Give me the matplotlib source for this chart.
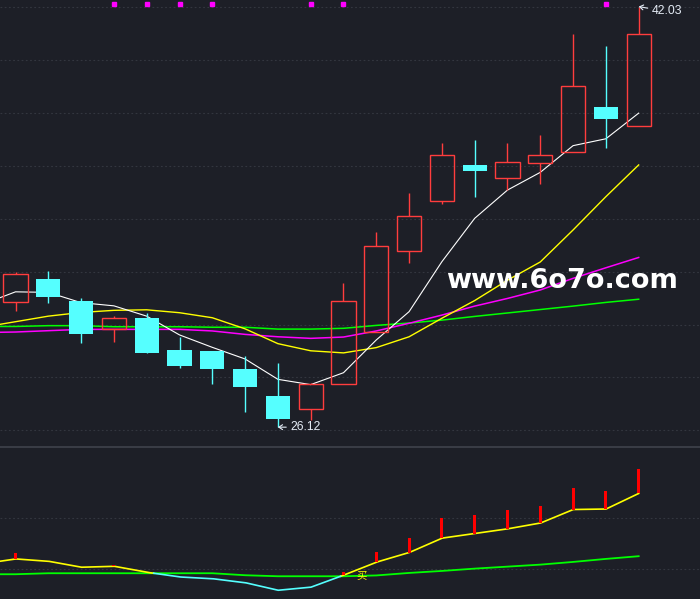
import matplotlib
matplotlib.use('Agg')
import matplotlib.pyplot as plt
from matplotlib.lines import Line2D
import numpy as np

# K线数据 (20根)
opens  = [30.85, 31.72, 30.89, 29.83, 30.25, 29.04, 29.00, 28.32, 27.30, 26.80,
          27.74, 29.71, 32.77, 34.66, 36.04, 35.53, 36.12, 36.52, 38.23, 37.50]
closes = [31.91, 31.05, 29.66, 30.24, 28.94, 28.45, 28.33, 27.65, 26.44, 27.75,
          30.89, 32.97, 34.11, 36.40, 35.82, 36.14, 36.40, 39.01, 37.79, 40.98]
highs  = [32.00, 32.04, 31.00, 30.32, 30.43, 29.54, 29.00, 28.81, 28.55, 27.79,
          31.57, 33.49, 34.98, 36.86, 36.98, 36.86, 37.17, 40.99, 40.54, 42.03]
lows   = [30.52, 30.83, 29.31, 29.35, 28.94, 28.37, 27.74, 26.71, 26.12, 26.39,
          27.74, 29.71, 32.34, 34.55, 34.84, 35.09, 35.31, 36.52, 36.69, 37.50]

# 均线 (含前一日, 共21个)
ma5  = [30.77, 31.24, 31.22, 30.83, 30.71, 30.32, 29.61, 29.14, 28.70, 27.93, 27.73,
        28.18, 29.42, 30.49, 32.38, 34.02, 35.09, 35.76, 36.77, 37.03, 38.00]
ma10 = [29.90, 30.11, 30.32, 30.46, 30.54, 30.56, 30.45, 30.26, 29.84, 29.28, 29.01,
        28.93, 29.13, 29.54, 30.24, 30.91, 31.68, 32.37, 33.58, 34.84, 36.04]
ma20 = [29.70, 29.72, 29.77, 29.82, 29.82, 29.82, 29.82, 29.76, 29.63, 29.54, 29.48,
        29.53, 29.76, 30.05, 30.36, 30.70, 30.99, 31.31, 31.75, 32.15, 32.54]
ma60 = [29.93, 29.93, 29.96, 29.96, 29.92, 29.92, 29.92, 29.90, 29.90, 29.83, 29.83,
        29.86, 29.97, 30.06, 30.17, 30.31, 30.44, 30.57, 30.70, 30.84, 30.96]

# 副图指标 (含前一日, 共21个)
sub_line  = [0.21, 0.404, 0.314, 0.078, 0.118, -0.118, -0.302, -0.369, -0.525, -0.824, -0.706,
             -0.235, 0.275, 0.651, 1.216, 1.396, 1.580, 1.804, 2.337, 2.353, 2.965]
sub_green = [-0.196, -0.196, -0.157, -0.157, -0.157, -0.157, -0.157, -0.157, -0.235, -0.275,
             -0.275, -0.275, -0.243, -0.145, -0.067, 0.024, 0.102, 0.180, 0.286, 0.404, 0.510]
bar_idx = [0, 3, 10, 11, 12, 13, 14, 15, 16, 17, 18, 19]
bar_top = [0.639, 0.157, -0.106, 0.678, 1.227, 2.012, 2.129, 2.325, 2.482, 3.188, 3.071, 3.933]

# 顶部标记
mark_idx = [3, 4, 5, 6, 9, 10, 18]

bg = '#1d1f27'
red = '#ff3d3d'
cyan = '#55ffff'
yellow = '#ffff00'
magenta = '#ff00ff'
green = '#00ff00'
grid_c = '#33363f'
label_c = '#e4ebf5'

n = len(opens)
xi = np.arange(n)
xm = np.arange(-1, n)

fig = plt.figure(figsize=(7, 5.99), dpi=100, facecolor=bg)
ax = fig.add_axes([0, 152/599, 1, 447/599])
ax2 = fig.add_axes([0, 0, 1, 152/599])
for a in (ax, ax2):
    a.set_facecolor(bg)
    for s in a.spines.values():
        s.set_visible(False)
    a.set_xticks([])
    a.set_yticks([])
    a.set_xlim(-0.473, 20.87)
ax.set_ylim(25.37, 42.28)
ax2.set_ylim(-1.165, 4.784)

# 网格
for p in np.arange(26, 43, 2):
    ax.axhline(p, color=grid_c, lw=0.8, ls=(0, (1.6, 2.2)), zorder=0)
for v in (0, 2):
    ax2.axhline(v, color=grid_c, lw=0.8, ls=(0, (1.6, 2.2)), zorder=0)

# 均线
ax.plot(xm, ma60, color=green, lw=1.1, zorder=2)
ax.plot(xm, ma20, color=magenta, lw=1.1, zorder=2)
ax.plot(xm, ma10, color=yellow, lw=1.0, zorder=2)
ax.plot(xm, ma5, color='white', lw=0.8, zorder=2)

# K线
w = 0.74
for i in range(n):
    o, c, h, l = opens[i], closes[i], highs[i], lows[i]
    if c >= o:
        ax.vlines(i, c, h, color=red, lw=1.0, zorder=3)
        ax.vlines(i, l, o, color=red, lw=1.0, zorder=3)
        ax.bar(i, c - o, bottom=o, width=w, fill=False, edgecolor=red, lw=1.0, zorder=3)
    else:
        ax.vlines(i, l, h, color=cyan, lw=1.0, zorder=3)
        ax.bar(i, o - c, bottom=c, width=w, color=cyan, lw=0, zorder=4)

ax.plot(mark_idx, [0.99] * len(mark_idx), 's', ms=2.2, color=magenta,
        transform=ax.get_xaxis_transform(), clip_on=False)

hi = int(np.argmax(highs))
lo = int(np.argmin(lows))
ax.annotate(f'{highs[hi]:.2f}', xy=(hi, highs[hi]), xytext=(9.5, -3.5),
            textcoords='offset points', ha='left', va='center', color=label_c,
            fontsize=8.8, family='Liberation Sans',
            arrowprops=dict(arrowstyle='->,head_length=0.3,head_width=0.2',
                            color=label_c, lw=0.8, shrinkA=1, shrinkB=0))
ax.annotate(f'{lows[lo]:.2f}', xy=(lo, lows[lo]), xytext=(9, 0),
            textcoords='offset points', ha='left', va='center', color=label_c,
            fontsize=8.8, family='Liberation Sans',
            arrowprops=dict(arrowstyle='->,head_length=0.3,head_width=0.2',
                            color=label_c, lw=0.8, shrinkA=1, shrinkB=0))

# 副图
xf = np.linspace(-1, n - 1, 3000)
lf = np.interp(xf, xm, sub_line)
gf = np.interp(xf, xm, sub_green)
ax2.plot(xm, sub_green, color=green, lw=1.3, zorder=2)
ax2.plot(xf, np.where(lf >= gf, lf, np.nan), color=yellow, lw=1.2, zorder=3)
ax2.plot(xf, np.where(lf < gf, lf, np.nan), color=cyan, lw=1.2, zorder=3)
base = np.array(sub_line)[np.array(bar_idx) + 1]
ax2.bar(bar_idx, np.array(bar_top) - base, bottom=base, width=0.09,
        color='#ff0000', lw=0, zorder=4)
ax2.text(10.55, -0.26, '买', color=yellow, fontsize=7.5,
         family=['Noto Sans CJK SC', 'DejaVu Sans'], ha='center', va='center', zorder=5)

# 分隔线
fig.add_artist(Line2D([0, 1], [152/599, 152/599], transform=fig.transFigure,
                      color='#3a3d46', lw=1.4))

# 水印
fig.text(0.8024, 0.5187, 'www.6o7o.com', color='white', fontsize=19.5,
         fontweight='bold', family='DejaVu Sans', ha='center', va='baseline')

fig.savefig('out.png', dpi=100, facecolor=bg)
